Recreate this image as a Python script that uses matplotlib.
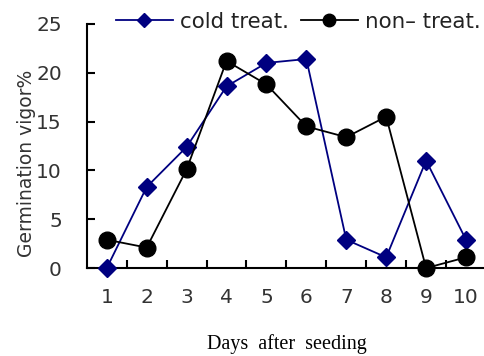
import numpy as np
import matplotlib
matplotlib.use("Agg")
import matplotlib.pyplot as plt

days = [1, 2, 3, 4, 5, 6, 7, 8, 9, 10]
cold = [0.0, 8.3, 12.4, 18.6, 21.0, 21.4, 2.9, 1.1, 11.0, 2.9]
non = [2.9, 2.1, 10.1, 21.2, 18.8, 14.5, 13.4, 15.5, 0.0, 1.1]
yticks = [0, 5, 10, 15, 20, 25]

plt.rcParams['font.family'] = ['DejaVu Sans']

fig = plt.figure(figsize=(4.85, 3.56), dpi=100)
ax = fig.add_axes([0.179, 0.247, 0.823, 0.686])

ax.plot(days, cold, color='#000080', lw=1.3, marker='D', ms=9,
        label='cold treat.', clip_on=False, zorder=3)
ax.plot(days, non, color='black', lw=1.3, marker='o', ms=12,
        label='non\u2013 treat.', clip_on=False, zorder=4)

ax.set_xlim(0.5, 10.5)
ax.set_ylim(0, 25)
ax.set_yticks(yticks)
ax.set_xticks(days)
ax.set_xticks(np.arange(1.5, 10, 1), minor=True)

for s in ['top', 'right']:
    ax.spines[s].set_visible(False)
for s in ['left', 'bottom']:
    ax.spines[s].set_linewidth(1.5)

ax.tick_params(axis='x', which='major', length=0, pad=14, labelsize=14.5, labelcolor='#333333')
ax.tick_params(axis='x', which='minor', direction='in', length=6, width=1.5)
ax.tick_params(axis='y', direction='in', length=6, width=1.5, pad=18, labelsize=14.5,
               labelcolor='#333333')

ax.set_ylabel('Germination vigor%', fontsize=13.5, color='#333333')
ax.yaxis.set_label_coords(-0.128, 0.43)
ax.set_xlabel('Days  after  seeding', family='Liberation Serif', fontsize=14.5, labelpad=20)

leg = ax.legend(loc='center left', bbox_to_anchor=(0.0725, 1.008), ncol=2, frameon=False,
                fontsize=15.4, handlelength=2.67, handletextpad=0.33, columnspacing=0.56,
                borderaxespad=0, borderpad=0, markerscale=0.75, labelcolor='#222222')

fig.savefig('out.png', dpi=100)
